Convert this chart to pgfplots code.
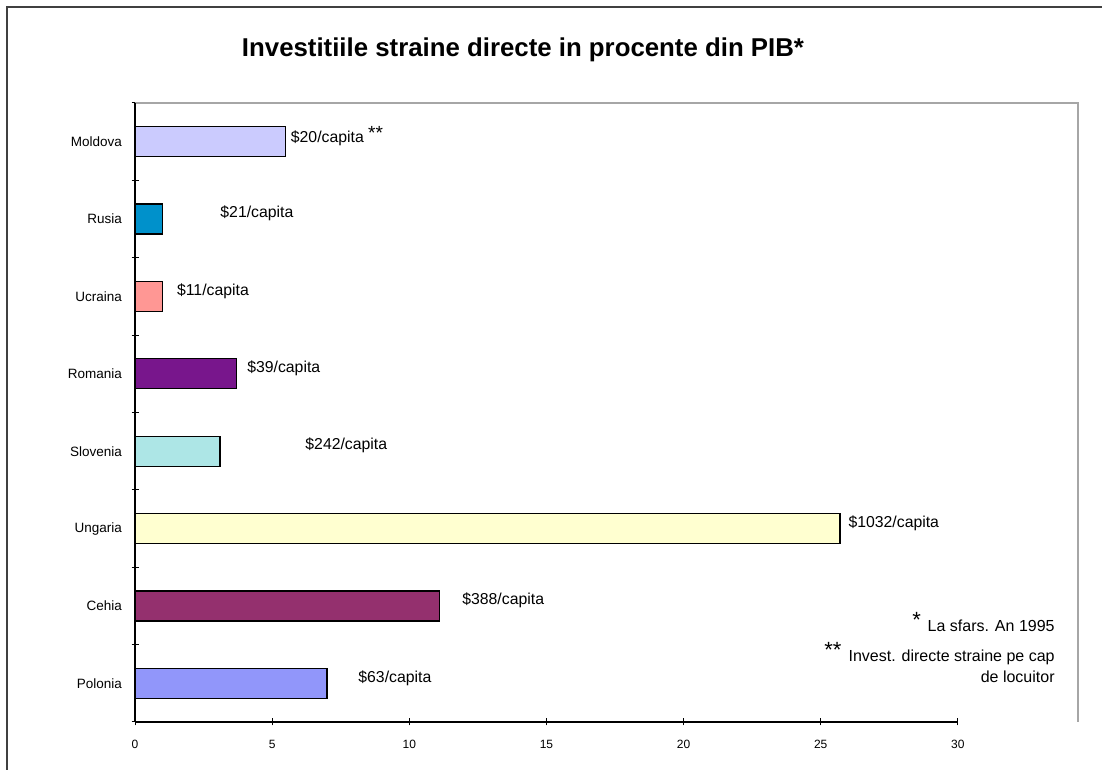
\documentclass[border=0pt]{standalone}
\usepackage{pgfplots}
\pgfplotsset{compat=1.18}
\usepackage{fontspec}
\setmainfont{Liberation Sans}

\definecolor{cPol}{HTML}{9196FA}
\definecolor{cCeh}{HTML}{94306E}
\definecolor{cUng}{HTML}{FFFFD0}
\definecolor{cSlo}{HTML}{ADE6E6}
\definecolor{cRom}{HTML}{78168C}
\definecolor{cUcr}{HTML}{FF9794}
\definecolor{cRus}{HTML}{0091CB}
\definecolor{cMol}{HTML}{CBCBFE}

% one picture pixel = 0.5pt, origin bottom-left
\newcommand{\pxy}[2]{({#1*0.5pt},{(770-#2)*0.5pt})}

\begin{document}
\begin{tikzpicture}
\path[use as bounding box] (0,0) rectangle (551pt,385pt);
\draw[black!75, line width=0.6pt] \pxy{7}{772} -- \pxy{7}{7} -- \pxy{1104}{7};

\node[font=\fontsize{12.9}{15}\selectfont\bfseries] at \pxy{523}{50}
  {Investitiile straine directe in procente din PIB*};

\begin{axis}[
  at={(67.5pt,24pt)}, anchor=south west,
  scale only axis,
  width=471.5pt, height=309.5pt,
  xmin=0, xmax=34.38,
  ymin=-0.5, ymax=7.5,
  axis line style={draw=none},
  xtick pos=bottom, ytick pos=left,
  xtick={0,5,...,30},
  ytick={-0.5,0.5,...,7.5},
  yticklabels={},
  extra y ticks={0,1,...,7},
  extra y tick labels={Polonia,Cehia,Ungaria,Slovenia,Romania,Ucraina,Rusia,Moldova},
  extra y tick style={major tick length=0pt,
    yticklabel style={font=\fontsize{6.75}{8}\selectfont, xshift=-3pt}},
  tick align=center,
  major tick length=3.5pt,
  tick style={black, line width=0.5pt},
  xticklabel style={font=\fontsize{6}{7}\selectfont, yshift=-4pt},
  /pgf/number format/assume math mode=true,
  clip=false,
]
\draw[gray!70, line width=0.6pt] (rel axis cs:0,1) -- (rel axis cs:1,1) -- (rel axis cs:1,0);
\draw[black, line width=0.6pt] (axis cs:0,-0.5) -- (axis cs:30,-0.5);
\draw[black, line width=0.6pt] (axis cs:0,-0.5) -- (axis cs:0,7.5);

\pgfplotsset{bstyle/.style={xbar, bar width=15pt, bar shift=0pt, draw=black, line width=0.6pt}}
\addplot[bstyle, fill=cPol] coordinates {(7.0,0)};  % Polonia
\addplot[bstyle, fill=cCeh] coordinates {(11.1,1)}; % Cehia
\addplot[bstyle, fill=cUng] coordinates {(25.7,2)}; % Ungaria
\addplot[bstyle, fill=cSlo] coordinates {(3.1,3)};  % Slovenia
\addplot[bstyle, fill=cRom] coordinates {(3.7,4)};  % Romania
\addplot[bstyle, fill=cUcr] coordinates {(1.0,5)};  % Ucraina
\addplot[bstyle, fill=cRus] coordinates {(1.0,6)};  % Rusia
\addplot[bstyle, fill=cMol] coordinates {(5.5,7)};  % Moldova

\begin{scope}[every node/.style={anchor=west, inner sep=0pt, font=\fontsize{7.9}{9}\selectfont}]
\node at (axis cs:5.67,7.07) {\$20/capita \raisebox{1.5pt}{\fontsize{9.5}{10}\selectfont **}};
\node at (axis cs:3.1,6.07) {\$21/capita};
\node at (axis cs:1.52,5.07) {\$11/capita};
\node at (axis cs:4.08,4.07) {\$39/capita};
\node at (axis cs:6.2,3.07) {\$242/capita};
\node at (axis cs:26.0,2.07) {\$1032/capita};
\node at (axis cs:11.92,1.07) {\$388/capita};
\node at (axis cs:8.13,0.07) {\$63/capita};
\end{scope}
\end{axis}

\begin{scope}[every node/.style={inner sep=0pt, font=\fontsize{8}{9}\selectfont}]
\node[font=\fontsize{11}{12}\selectfont, anchor=west] at \pxy{912}{620} {*};
\node[anchor=east] at \pxy{1055}{626} {La sfars. An 1995};
\node[font=\fontsize{11}{12}\selectfont, anchor=west] at \pxy{824}{650} {**};
\node[anchor=east] at \pxy{1055}{657} {Invest. directe straine pe cap};
\node[anchor=east] at \pxy{1055}{677} {de locuitor};
\end{scope}
\end{tikzpicture}
\end{document}
